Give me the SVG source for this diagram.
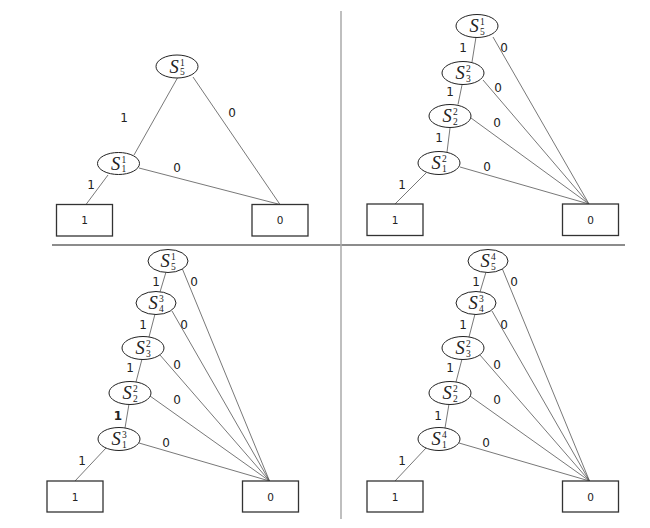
<svg xmlns="http://www.w3.org/2000/svg" width="650" height="528" viewBox="0 0 650 528">
<style>
.edge{stroke:#555;stroke-width:0.8;fill:none}
.divh{stroke:#666;stroke-width:1.5}
.divv{stroke:#aaa;stroke-width:1.5}
.node ellipse{fill:#fff;stroke:#222;stroke-width:1}
.box rect{fill:#fff;stroke:#333;stroke-width:1.3}
.lbl{font-family:"DejaVu Sans",Verdana,sans-serif;font-size:12px;fill:#222;text-anchor:middle}
.blbl{font-family:"DejaVu Sans",Verdana,sans-serif;font-size:10.5px;fill:#222;text-anchor:middle}
.s{font-family:"Liberation Serif","Times New Roman",serif;font-style:italic;font-size:18.5px;fill:#222}
.ix{font-family:"Liberation Serif","Times New Roman",serif;font-size:9.5px;fill:#222}
</style>
<rect width="650" height="528" fill="#fff"/>
<g id="dividers">
<line class="divh" x1="52" y1="245" x2="625" y2="245"/>
<line class="divv" x1="341" y1="11" x2="341" y2="519"/>
</g>
<g id="connectors">
<line class="edge" x1="178" y1="77" x2="134" y2="155"/>
<line class="edge" x1="193" y1="77" x2="280" y2="204.5"/>
<line class="edge" x1="108" y1="175" x2="86" y2="204.5"/>
<line class="edge" x1="139" y1="168" x2="280" y2="204.5"/>
<line class="edge" x1="476" y1="37" x2="472" y2="62"/>
<line class="edge" x1="493" y1="37" x2="589" y2="204"/>
<line class="edge" x1="462" y1="85" x2="458" y2="104.5"/>
<line class="edge" x1="483" y1="80" x2="589" y2="204"/>
<line class="edge" x1="450" y1="128" x2="447" y2="152"/>
<line class="edge" x1="471" y1="118" x2="589" y2="204"/>
<line class="edge" x1="426" y1="173" x2="395" y2="204"/>
<line class="edge" x1="460" y1="167" x2="589" y2="204"/>
<line class="edge" x1="166" y1="272" x2="160" y2="292"/>
<line class="edge" x1="182" y1="268" x2="269.5" y2="481"/>
<line class="edge" x1="155" y1="314" x2="149" y2="337"/>
<line class="edge" x1="172" y1="311" x2="269.5" y2="481"/>
<line class="edge" x1="142" y1="359" x2="136" y2="382"/>
<line class="edge" x1="160" y1="355" x2="269.5" y2="481"/>
<line class="edge" x1="129" y1="404" x2="125" y2="428"/>
<line class="edge" x1="150" y1="396" x2="269.5" y2="481"/>
<line class="edge" x1="106" y1="448" x2="75" y2="481"/>
<line class="edge" x1="139" y1="443" x2="269.5" y2="481"/>
<line class="edge" x1="486" y1="272" x2="480" y2="292"/>
<line class="edge" x1="502" y1="268" x2="589.5" y2="481"/>
<line class="edge" x1="475" y1="314" x2="469" y2="337"/>
<line class="edge" x1="492" y1="311" x2="589.5" y2="481"/>
<line class="edge" x1="462" y1="359" x2="456" y2="382"/>
<line class="edge" x1="480" y1="355" x2="589.5" y2="481"/>
<line class="edge" x1="449" y1="404" x2="445" y2="428"/>
<line class="edge" x1="470" y1="396" x2="589.5" y2="481"/>
<line class="edge" x1="426" y1="448" x2="395" y2="481"/>
<line class="edge" x1="459" y1="443" x2="589.5" y2="481"/>
</g>
<g id="edge-labels">
<text class="lbl" x="124" y="122">1</text>
<text class="lbl" x="232" y="117">0</text>
<text class="lbl" x="177" y="172">0</text>
<text class="lbl" x="91" y="189">1</text>

<text class="lbl" x="463" y="52">1</text>
<text class="lbl" x="504" y="52">0</text>
<text class="lbl" x="450" y="96">1</text>
<text class="lbl" x="498" y="92">0</text>
<text class="lbl" x="439" y="142">1</text>
<text class="lbl" x="497" y="127">0</text>
<text class="lbl" x="487" y="171">0</text>
<text class="lbl" x="402" y="189">1</text>

<text class="lbl" x="156" y="286">1</text>
<text class="lbl" x="194" y="286">0</text>
<text class="lbl" x="143" y="329">1</text>
<text class="lbl" x="184" y="329">0</text>
<text class="lbl" x="130" y="372">1</text>
<text class="lbl" x="177" y="369">0</text>
<text class="lbl" x="118" y="420" font-weight="bold">1</text>
<text class="lbl" x="177" y="404">0</text>
<text class="lbl" x="166" y="447">0</text>
<text class="lbl" x="82" y="465">1</text>

<text class="lbl" x="476" y="286">1</text>
<text class="lbl" x="514" y="286">0</text>
<text class="lbl" x="463" y="329">1</text>
<text class="lbl" x="504" y="329">0</text>
<text class="lbl" x="450" y="372">1</text>
<text class="lbl" x="497" y="369">0</text>
<text class="lbl" x="438" y="420">1</text>
<text class="lbl" x="497" y="404">0</text>
<text class="lbl" x="486" y="447">0</text>
<text class="lbl" x="402" y="465">1</text>
</g>

<g id="tl-s5" class="node" transform="translate(177,66.5)"><ellipse rx="21" ry="11.5"/><text class="s" x="-7.5" y="6">S</text><text class="ix" x="3" y="-1">1</text><text class="ix" x="3" y="8.5">5</text></g>
<g id="tl-s1" class="node" transform="translate(118.5,163.5)"><ellipse rx="21" ry="11"/><text class="s" x="-7.5" y="6">S</text><text class="ix" x="3" y="-1">1</text><text class="ix" x="3" y="8.5">1</text></g>
<g id="tl-one" class="box"><rect x="56.5" y="204.5" width="56" height="31.5"/><text class="blbl" x="84.5" y="224">1</text></g>
<g id="tl-zero" class="box"><rect x="252" y="204.5" width="56" height="31.5"/><text class="blbl" x="280" y="224">0</text></g>

<g id="tr-s5" class="node" transform="translate(477,26)"><ellipse rx="21" ry="11.5"/><text class="s" x="-7.5" y="6">S</text><text class="ix" x="3" y="-1">1</text><text class="ix" x="3" y="8.5">5</text></g>
<g id="tr-s3" class="node" transform="translate(463,73)"><ellipse rx="21" ry="11.5"/><text class="s" x="-7.5" y="6">S</text><text class="ix" x="3" y="-1">2</text><text class="ix" x="3" y="8.5">3</text></g>
<g id="tr-s2" class="node" transform="translate(450,116)"><ellipse rx="21" ry="11.5"/><text class="s" x="-7.5" y="6">S</text><text class="ix" x="3" y="-1">2</text><text class="ix" x="3" y="8.5">2</text></g>
<g id="tr-s1" class="node" transform="translate(439,163)"><ellipse rx="21" ry="11.5"/><text class="s" x="-7.5" y="6">S</text><text class="ix" x="3" y="-1">2</text><text class="ix" x="3" y="8.5">1</text></g>
<g id="tr-one" class="box"><rect x="367" y="204" width="56" height="31.5"/><text class="blbl" x="395" y="224">1</text></g>
<g id="tr-zero" class="box"><rect x="562.5" y="204" width="56" height="31.5"/><text class="blbl" x="590.5" y="224">0</text></g>

<g id="bl-s5" class="node" transform="translate(168,261)"><ellipse rx="20" ry="11.5"/><text class="s" x="-7.5" y="6">S</text><text class="ix" x="3" y="-1">1</text><text class="ix" x="3" y="8.5">5</text></g>
<g id="bl-s4" class="node" transform="translate(156,303)"><ellipse rx="20" ry="11.5"/><text class="s" x="-7.5" y="6">S</text><text class="ix" x="3" y="-1">3</text><text class="ix" x="3" y="8.5">4</text></g>
<g id="bl-s3" class="node" transform="translate(143,348)"><ellipse rx="21" ry="11.5"/><text class="s" x="-7.5" y="6">S</text><text class="ix" x="3" y="-1">2</text><text class="ix" x="3" y="8.5">3</text></g>
<g id="bl-s2" class="node" transform="translate(130,393)"><ellipse rx="21" ry="11.5"/><text class="s" x="-7.5" y="6">S</text><text class="ix" x="3" y="-1">2</text><text class="ix" x="3" y="8.5">2</text></g>
<g id="bl-s1" class="node" transform="translate(119,439)"><ellipse rx="21" ry="11.5"/><text class="s" x="-7.5" y="6">S</text><text class="ix" x="3" y="-1">3</text><text class="ix" x="3" y="8.5">1</text></g>
<g id="bl-one" class="box"><rect x="47" y="481" width="56" height="31"/><text class="blbl" x="75" y="500.5">1</text></g>
<g id="bl-zero" class="box"><rect x="242.5" y="481" width="56" height="31"/><text class="blbl" x="270.5" y="500.5">0</text></g>

<g id="br-s5" class="node" transform="translate(488,261)"><ellipse rx="20" ry="11.5"/><text class="s" x="-7.5" y="6">S</text><text class="ix" x="3" y="-1">4</text><text class="ix" x="3" y="8.5">5</text></g>
<g id="br-s4" class="node" transform="translate(476,303)"><ellipse rx="20" ry="11.5"/><text class="s" x="-7.5" y="6">S</text><text class="ix" x="3" y="-1">3</text><text class="ix" x="3" y="8.5">4</text></g>
<g id="br-s3" class="node" transform="translate(463,348)"><ellipse rx="21" ry="11.5"/><text class="s" x="-7.5" y="6">S</text><text class="ix" x="3" y="-1">2</text><text class="ix" x="3" y="8.5">3</text></g>
<g id="br-s2" class="node" transform="translate(450,393)"><ellipse rx="21" ry="11.5"/><text class="s" x="-7.5" y="6">S</text><text class="ix" x="3" y="-1">2</text><text class="ix" x="3" y="8.5">2</text></g>
<g id="br-s1" class="node" transform="translate(439,439)"><ellipse rx="21" ry="11.5"/><text class="s" x="-7.5" y="6">S</text><text class="ix" x="3" y="-1">4</text><text class="ix" x="3" y="8.5">1</text></g>
<g id="br-one" class="box"><rect x="367" y="481" width="56" height="31"/><text class="blbl" x="395" y="500.5">1</text></g>
<g id="br-zero" class="box"><rect x="562.5" y="481" width="56" height="31"/><text class="blbl" x="590.5" y="500.5">0</text></g>
</svg>
